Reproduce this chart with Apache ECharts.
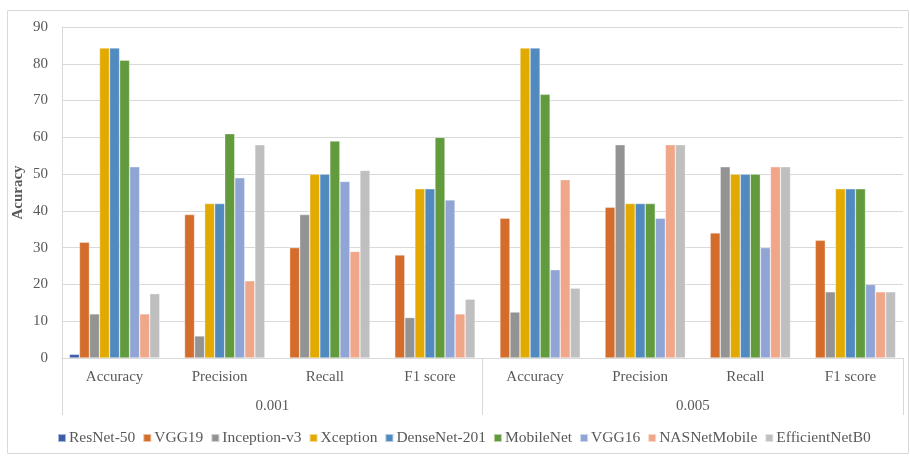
<!DOCTYPE html>
<html>
<head>
<meta charset="utf-8">
<script src="https://cdn.jsdelivr.net/npm/echarts@6/dist/echarts.min.js"></script>
<style>
  html, body { margin: 0; padding: 0; background: #fff; }
  #chart { width: 910px; height: 456px; }
</style>
</head>
<body>
<div id="chart"></div>
<script>
// Metric categories, repeated for each learning rate
const categories = ['Accuracy', 'Precision', 'Recall', 'F1 score', 'Accuracy', 'Precision', 'Recall', 'F1 score'];
const rateLabels = ['0.001', '0.005'];
const yTicks = { min: 0, max: 90, step: 10 };

// Scores per model, order follows categories
const resnet50     = [1, null, null, null, null, null, null, null];
const vgg19        = [31.5, 39, 30, 28, 38, 41, 34, 32];
const inceptionV3  = [12, 6, 39, 11, 12.5, 58, 52, 18];
const xception     = [84.3, 42, 50, 46, 84.3, 42, 50, 46];
const densenet201  = [84.3, 42, 50, 46, 84.3, 42, 50, 46];
const mobilenet    = [81, 61, 59, 60, 71.7, 42, 50, 46];
const vgg16        = [52, 49, 48, 43, 24, 38, 30, 20];
const nasnetMobile = [12, 21, 29, 12, 48.5, 58, 52, 18];
const efficientB0  = [17.5, 58, 51, 16, 19, 58, 52, 18];

const models = [
  { name: 'ResNet-50',      data: resnet50,     color: '#3C5EA8' },
  { name: 'VGG19',          data: vgg19,        color: '#D46D2B' },
  { name: 'Inception-v3',   data: inceptionV3,  color: '#939393' },
  { name: 'Xception',       data: xception,     color: '#E2AA00' },
  { name: 'DenseNet-201',   data: densenet201,  color: '#508ABF' },
  { name: 'MobileNet',      data: mobilenet,    color: '#629B3E' },
  { name: 'VGG16',          data: vgg16,        color: '#90A5D5' },
  { name: 'NASNetMobile',   data: nasnetMobile, color: '#F0A789' },
  { name: 'EfficientNetB0', data: efficientB0,  color: '#BFBFBF' }
];

const serif = "'Liberation Serif', 'Times New Roman', serif";
const textGrey = '#595959';
const lineGrey = '#D9D9D9';

const chart = echarts.init(document.getElementById('chart'), null, { renderer: 'canvas' });

chart.setOption({
  backgroundColor: '#fff',
  animation: false,
  textStyle: { fontFamily: serif },
  graphic: [{
    type: 'rect',
    left: 5, top: 8,
    shape: { width: 901, height: 443 },
    style: { fill: 'none', stroke: '#D9D9D9', lineWidth: 1 },
    silent: true,
    z: -10
  }],
  grid: { left: 62, right: 7, top: 27, bottom: 98, containLabel: false },
  legend: {
    top: 425,
    left: 52,
    itemWidth: 8,
    itemHeight: 8,
    itemGap: 7,
    icon: 'rect',
    textStyle: { fontFamily: serif, fontSize: 15.5, color: textGrey, padding: [0, 0, 0, -2] },
    data: models.map(m => m.name)
  },
  xAxis: [
    {
      type: 'category',
      data: categories,
      position: 'bottom',
      axisLine: { show: true, lineStyle: { color: lineGrey, width: 1 } },
      axisTick: { show: false },
      axisLabel: { interval: 0, margin: 12, fontFamily: serif, fontSize: 15, color: textGrey }
    },
    {
      type: 'category',
      data: rateLabels,
      position: 'bottom',
      boundaryGap: true,
      axisLine: { show: false },
      axisTick: { show: true, interval: 0, length: 57, lineStyle: { color: lineGrey, width: 1 } },
      axisLabel: { interval: 0, margin: 41, fontFamily: serif, fontSize: 15, color: textGrey }
    }
  ],
  yAxis: {
    type: 'value',
    min: yTicks.min,
    max: yTicks.max,
    interval: yTicks.step,
    name: 'Acuracy',
    nameLocation: 'middle',
    nameGap: 36,
    nameMoveOverlap: false,
    nameRotate: 90,
    nameTextStyle: { fontFamily: serif, fontSize: 15, fontWeight: 'bold', color: textGrey },
    axisLine: { show: true, lineStyle: { color: lineGrey, width: 1 } },
    axisTick: { show: false },
    splitLine: { show: true, lineStyle: { color: lineGrey, width: 1 } },
    axisLabel: { margin: 14, fontFamily: serif, fontSize: 15, color: textGrey }
  },
  series: models.map(m => ({
    name: m.name,
    type: 'bar',
    xAxisIndex: 0,
    data: m.data,
    barGap: '0%',
    barCategoryGap: '14%',
    itemStyle: { color: m.color, borderColor: 'rgba(255,255,255,0.55)', borderWidth: 0.6 },
    emphasis: { disabled: true }
  }))
});
</script>
</body>
</html>
